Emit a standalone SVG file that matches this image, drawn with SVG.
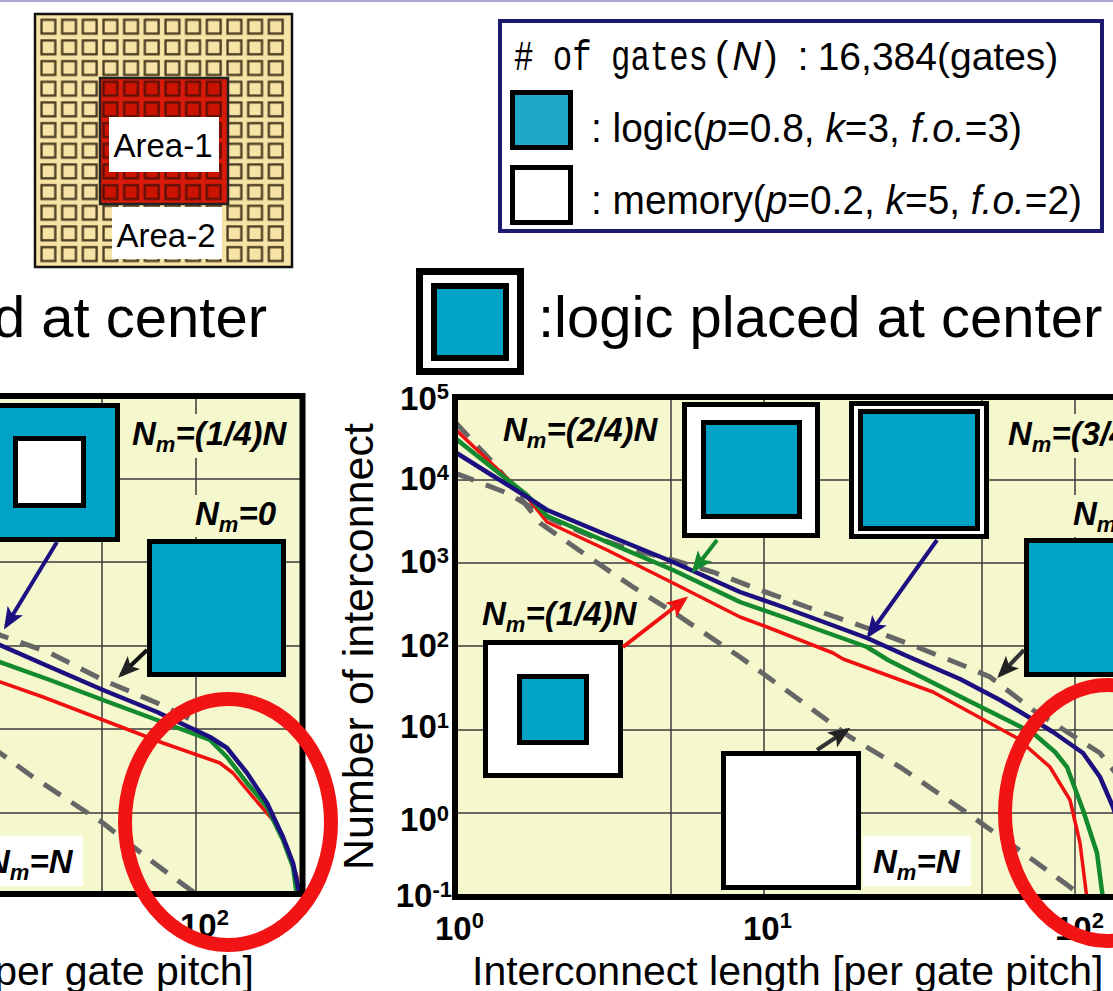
<svg xmlns="http://www.w3.org/2000/svg" width="1113" height="991" viewBox="0 0 1113 991">
<style>
  .sans{font-family:"Liberation Sans",Arial,sans-serif;fill:#000}
  .mono{font-family:"Liberation Mono","Courier New",monospace;fill:#000}
  .lbl{font-family:"Liberation Sans",Arial,sans-serif;font-weight:bold;font-style:italic;font-size:33px;fill:#000}
  .tick{font-family:"Liberation Sans",Arial,sans-serif;font-weight:bold;font-size:33px;fill:#000}
  .plot{fill:#f5f7cd}
  .grid{stroke:#3a3a3a;stroke-width:1.5;fill:none}
  .frame{fill:none;stroke:#000;stroke-width:6}
  .box{stroke:#000;stroke-width:5}
  .blue{fill:#00a2c6}
  .white{fill:#fff}
  .dash{fill:none;stroke:#666;stroke-width:5;stroke-dasharray:20 13}
  .navy{fill:none;stroke:#1c1080;stroke-width:4.5;stroke-linejoin:round}
  .green{fill:none;stroke:#138a2e;stroke-width:4.5;stroke-linejoin:round}
  .red{fill:none;stroke:#f01010;stroke-width:3.5;stroke-linejoin:round}
  .ring{fill:none;stroke:#f21414;stroke-width:14}
  .arr{fill:none;stroke-width:4}
</style>
<defs>
  <pattern id="cellTan" patternUnits="userSpaceOnUse" x="38" y="16.5" width="20.67" height="20.67">
    <rect x="3.5" y="3.3" width="13.8" height="13.8" fill="#f8e3a6" stroke="#4a3b20" stroke-width="2.3"/>
  </pattern>
  <pattern id="cellRed" patternUnits="userSpaceOnUse" x="38" y="16.5" width="20.67" height="20.67">
    <rect x="3.5" y="3.3" width="13.8" height="13.8" fill="#cc1200" stroke="#5e1006" stroke-width="2.3"/>
  </pattern>
  <clipPath id="clipL"><rect x="-10" y="396" width="312" height="498"/></clipPath>
  <clipPath id="clipR"><rect x="455" y="397" width="700" height="500"/></clipPath>
  <marker id="ahNavy" markerUnits="userSpaceOnUse" viewBox="0 0 22 18" refX="18" refY="9" markerWidth="22" markerHeight="18" orient="auto"><path d="M0,0 L22,9 L0,18 L5,9 z" fill="#1c1080"/></marker>
  <marker id="ahGreen" markerUnits="userSpaceOnUse" viewBox="0 0 22 18" refX="18" refY="9" markerWidth="22" markerHeight="18" orient="auto"><path d="M0,0 L22,9 L0,18 L5,9 z" fill="#138a2e"/></marker>
  <marker id="ahRed" markerUnits="userSpaceOnUse" viewBox="0 0 22 18" refX="18" refY="9" markerWidth="22" markerHeight="18" orient="auto"><path d="M0,0 L22,9 L0,18 L5,9 z" fill="#f01010"/></marker>
  <marker id="ahDark" markerUnits="userSpaceOnUse" viewBox="0 0 22 18" refX="18" refY="9" markerWidth="22" markerHeight="18" orient="auto"><path d="M0,0 L22,9 L0,18 L5,9 z" fill="#222"/></marker>
</defs>

<rect width="1113" height="991" fill="#fff"/>
<rect x="0" y="0" width="1113" height="2" fill="#aaa6d6"/>

<!-- chip floorplan -->
<g id="chip">
  <rect x="35" y="14" width="257" height="253" fill="#f8e3a6" stroke="#111" stroke-width="2.5"/>
  <rect x="38" y="16.5" width="248" height="248" fill="url(#cellTan)"/>
  <rect x="100" y="78" width="128" height="126" fill="#d81a0a" stroke="#222" stroke-width="2.5"/>
  <rect x="100" y="78.5" width="124" height="124" fill="url(#cellRed)"/>
  <rect x="109" y="117" width="110" height="55" fill="#fff"/>
  <text class="sans" x="163" y="157" font-size="33" text-anchor="middle">Area-1</text>
  <rect x="112" y="207" width="110" height="52" fill="#fff"/>
  <text class="sans" x="166" y="247" font-size="33" text-anchor="middle">Area-2</text>
</g>

<!-- legend -->
<g id="legend">
  <rect x="500" y="21" width="602" height="210" fill="#fff" stroke="#1c1a6e" stroke-width="4"/>
  <text class="mono" x="514" y="70" font-size="42" textLength="194" lengthAdjust="spacingAndGlyphs"># of gates</text>
  <text class="sans" x="715" y="70" font-size="40">(<tspan dx="4" font-style="italic">N</tspan><tspan dx="3">)</tspan><tspan dx="20">:</tspan><tspan dx="9" font-size="39">16,384(gates)</tspan></text>
  <rect x="512.5" y="92.5" width="58" height="55" fill="#1fa8c8" stroke="#000" stroke-width="5"/>
  <text class="sans" x="591" y="142" font-size="40" textLength="431" lengthAdjust="spacingAndGlyphs">: logic(<tspan font-style="italic">p</tspan>=0.8, <tspan font-style="italic">k</tspan>=3, <tspan font-style="italic">f.o.</tspan>=3)</text>
  <rect x="512.5" y="167.5" width="58" height="55" fill="#fff" stroke="#000" stroke-width="5"/>
  <text class="sans" x="591" y="214" font-size="40" textLength="491" lengthAdjust="spacingAndGlyphs">: memory(<tspan font-style="italic">p</tspan>=0.2, <tspan font-style="italic">k</tspan>=5, <tspan font-style="italic">f.o.</tspan>=2)</text>
</g>

<!-- panel titles -->
<g id="titles">
  <text class="sans" x="267" y="337" font-size="58" text-anchor="end">d at center</text>
  <rect x="419.5" y="271.5" width="101" height="100" fill="#fff" stroke="#000" stroke-width="7"/>
  <rect x="434" y="286" width="72" height="72" class="blue" stroke="#000" stroke-width="6"/>
  <text class="sans" x="538" y="337" font-size="58">:logic placed at center</text>
</g>

<!-- left plot -->
<g id="plot-left">
  <rect class="plot" x="-10" y="396" width="312" height="498"/>
  <g class="grid">
    <line x1="102" y1="396" x2="102" y2="894"/>
    <line x1="196" y1="396" x2="196" y2="894"/>
    <line x1="-10" y1="479" x2="302" y2="479"/>
    <line x1="-10" y1="562" x2="302" y2="562"/>
    <line x1="-10" y1="646" x2="302" y2="646"/>
    <line x1="-10" y1="729" x2="302" y2="729"/>
    <line x1="-10" y1="813" x2="302" y2="813"/>
  </g>
  <g clip-path="url(#clipL)">
    <polyline class="dash" points="-10,630 0,635 50,653 103,680 157,703 200,724"/>
    <polyline class="dash" points="-10,746 0,753 33,777 103,823 150,860 200,897"/>
    <polyline class="red" points="-10,678 0,682 43,697 103,720 163,743 220,763 233,773 253,797 273,820 287,847 297,877 299,896"/>
    <polyline class="green" points="-10,658 0,662 50,680 103,700 157,720 210,740 227,757 247,783 267,807 283,840 293,867 297,896"/>
    <polyline class="navy" points="-10,641 0,645 50,667 103,690 157,712 210,737 227,748 247,773 267,803 283,837 293,863 300,896"/>
  </g>
  <rect class="plot" x="128" y="414" width="168" height="44"/>
  <text class="lbl" x="132" y="445">N<tspan font-size="22" dy="7">m</tspan><tspan dy="-7">=(1/4)N</tspan></text>
  <rect class="plot" x="190" y="495" width="94" height="42"/>
  <text class="lbl" x="195" y="525">N<tspan font-size="22" dy="7">m</tspan><tspan dy="-7">=0</tspan></text>
  <rect x="-30" y="836" width="113" height="50" fill="#fff"/>
  <text class="lbl" x="-14" y="873">N<tspan font-size="22" dy="7">m</tspan><tspan dy="-7">=N</tspan></text>
</g>

<g id="inset-left-quarter">
  <rect class="box blue" x="-20" y="405.5" width="137.5" height="134"/>
  <rect class="box white" x="15.5" y="438.5" width="68" height="67"/>
</g>
<g id="inset-left-logic">
  <rect class="box blue" x="149.5" y="541.5" width="134" height="133"/>
</g>

<!-- right plot -->
<g id="plot-right">
  <rect class="plot" x="455" y="397" width="700" height="500"/>
  <g class="grid">
    <line x1="671" y1="397" x2="671" y2="897"/>
    <line x1="764" y1="397" x2="764" y2="897"/>
    <line x1="982" y1="397" x2="982" y2="897"/>
    <line x1="1075" y1="397" x2="1075" y2="897"/>
    <line x1="455" y1="480" x2="1113" y2="480"/>
    <line x1="455" y1="563" x2="1113" y2="563"/>
    <line x1="455" y1="646" x2="1113" y2="646"/>
    <line x1="455" y1="730" x2="1113" y2="730"/>
    <line x1="455" y1="813" x2="1113" y2="813"/>
  </g>
  <g clip-path="url(#clipR)">
    <polyline class="dash" points="455,473 507,493 553,520 593,537 633,550 673,560 713,572 760,590 807,607 867,628 917,647 967,667 990,677 1007,690 1033,710 1100,753 1125,785"/>
    <polyline class="dash" points="455,422 497,467 540,523 593,560 633,587 673,612 740,657 790,693 850,737 900,767 967,813 1033,860 1070,887 1085,899"/>
    <polyline class="red" points="455,429 490,462 527,497 547,522 607,550 673,583 740,617 767,627 833,653 843,659 933,692 1017,738 1050,767 1070,800 1080,843 1087,899"/>
    <polyline class="green" points="455,438 490,466 527,495 547,516 607,542 673,570 740,602 783,617 867,647 888,660 967,700 1033,733 1055,752 1067,767 1083,810 1097,853 1103,899"/>
    <polyline class="navy" points="455,452 490,474 527,497 547,510 607,535 673,562 740,592 783,607 867,638 907,656 960,679 1000,700 1027,716 1053,732 1083,753 1100,777 1113,807 1122,835"/>
  </g>
  <rect class="plot" x="498" y="410" width="168" height="42"/>
  <text class="lbl" x="503" y="441">N<tspan font-size="22" dy="7">m</tspan><tspan dy="-7">=(2/4)N</tspan></text>
  <rect class="plot" x="1003" y="414" width="120" height="44"/>
  <text class="lbl" x="1008" y="445">N<tspan font-size="22" dy="7">m</tspan><tspan dy="-7">=(3/4)N</tspan></text>
  <rect class="plot" x="1068" y="495" width="60" height="42"/>
  <text class="lbl" x="1073" y="525">N<tspan font-size="22" dy="7">m</tspan><tspan dy="-7">=0</tspan></text>
  <text class="lbl" x="482" y="625">N<tspan font-size="22" dy="7">m</tspan><tspan dy="-7">=(1/4)N</tspan></text>
  <rect x="863" y="836" width="108" height="50" fill="#fff"/>
  <text class="lbl" x="873" y="873">N<tspan font-size="22" dy="7">m</tspan><tspan dy="-7">=N</tspan></text>
</g>

<g id="inset-half">
  <rect class="box white" x="684.5" y="404.5" width="133" height="131"/>
  <rect class="box blue" x="703.5" y="422.5" width="96" height="94"/>
</g>
<g id="inset-three-quarter">
  <rect class="box white" x="851.5" y="403.5" width="135" height="133"/>
  <rect class="box blue" x="860.5" y="411.5" width="117" height="117"/>
</g>
<g id="inset-right-logic">
  <rect class="box blue" x="1026.5" y="540.5" width="134" height="134"/>
</g>
<g id="inset-quarter">
  <rect class="box white" x="485.5" y="642.5" width="135" height="133"/>
  <rect class="box blue" x="519.5" y="676.5" width="67" height="66"/>
</g>
<g id="inset-memory">
  <rect class="box white" x="723.5" y="753.5" width="135" height="134"/>
</g>

<!-- pointer arrows -->
<g id="connectors">
  <line class="arr" stroke="#1c1080" x1="57" y1="542" x2="6" y2="626" marker-end="url(#ahNavy)"/>
  <line class="arr" stroke="#111" x1="147" y1="650" x2="121" y2="675" marker-end="url(#ahDark)"/>
  <line class="arr" stroke="#138a2e" x1="717" y1="540" x2="694" y2="570" marker-end="url(#ahGreen)"/>
  <line class="arr" stroke="#1c1080" x1="937" y1="540" x2="869" y2="635" marker-end="url(#ahNavy)"/>
  <line class="arr" stroke="#333" x1="1024" y1="650" x2="1000" y2="675" marker-end="url(#ahDark)"/>
  <line class="arr" stroke="#f01010" x1="623" y1="647" x2="685" y2="599" marker-end="url(#ahRed)"/>
  <line class="arr" stroke="#333" x1="817" y1="750" x2="847" y2="730" marker-end="url(#ahDark)"/>
</g>

<!-- plot frames -->
<rect class="frame" x="-10" y="396" width="312.5" height="498"/>
<path class="frame" d="M1120,397 H455 V897 H1120"/>

<!-- axis labels -->
<g id="axes">
  <text class="tick" x="449" y="410" text-anchor="end">10<tspan font-size="22" dy="-11">5</tspan></text>
  <text class="tick" x="449" y="490" text-anchor="end">10<tspan font-size="22" dy="-10">4</tspan></text>
  <text class="tick" x="449" y="573" text-anchor="end">10<tspan font-size="22" dy="-10">3</tspan></text>
  <text class="tick" x="449" y="657" text-anchor="end">10<tspan font-size="22" dy="-10">2</tspan></text>
  <text class="tick" x="449" y="738" text-anchor="end">10<tspan font-size="22" dy="-10">1</tspan></text>
  <text class="tick" x="449" y="831" text-anchor="end">10<tspan font-size="22" dy="-10">0</tspan></text>
  <text class="tick" x="452" y="907" text-anchor="end">10<tspan font-size="22" dy="-10">-1</tspan></text>
  <text class="tick" x="435" y="940">10<tspan font-size="22" dy="-12">0</tspan></text>
  <text class="tick" x="743" y="940">10<tspan font-size="22" dy="-12">1</tspan></text>
  <text class="tick" x="1055" y="940">10<tspan font-size="22" dy="-12">2</tspan></text>
  <text class="tick" x="180" y="937">10<tspan font-size="22" dy="-12">2</tspan></text>
  <text class="sans" font-size="43" transform="translate(373,870) rotate(-90)">Number of interconnect</text>
  <text class="sans" x="472" y="985" font-size="41">Interconnect length [per gate pitch]</text>
  <text class="sans" x="254" y="985" font-size="41" text-anchor="end">per gate pitch]</text>
</g>

<!-- highlight rings -->
<ellipse class="ring" cx="228" cy="822" rx="103" ry="123"/>
<ellipse class="ring" cx="1108" cy="813" rx="103" ry="128"/>
</svg>
